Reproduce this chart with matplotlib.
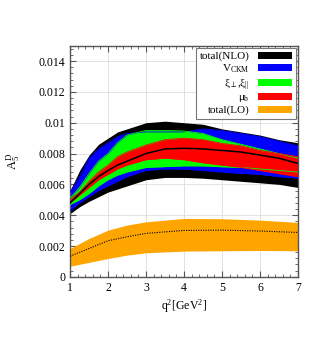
import numpy as np
import matplotlib
matplotlib.use("Agg")
import matplotlib.pyplot as plt
from matplotlib.ticker import AutoMinorLocator, FuncFormatter
from matplotlib.patches import Patch

plt.rcParams['font.family'] = ['Liberation Serif', 'DejaVu Serif']
plt.rcParams['mathtext.fontset'] = 'custom'
plt.rcParams['mathtext.rm'] = 'Liberation Serif'
plt.rcParams['mathtext.it'] = 'Liberation Serif'

q2 = [1.0, 1.25, 1.5, 1.75, 2.0, 2.25, 2.5, 3.0, 3.5, 4.0, 4.5, 5.0, 5.5, 6.0, 6.5, 7.0]

nlo_central = [0.0048, 0.0054, 0.0060, 0.0065, 0.0069, 0.00725, 0.0075, 0.0080, 0.0083, 0.00834, 0.0083, 0.0082, 0.0081, 0.0079, 0.0077, 0.00736]
nlo_upper = [0.0056, 0.0069, 0.0079, 0.0086, 0.0090, 0.0094, 0.0096, 0.0100, 0.0101, 0.0100, 0.0099, 0.0096, 0.0094, 0.0092, 0.0089, 0.0087]
nlo_lower = [0.0041, 0.00455, 0.0049, 0.0052, 0.0055, 0.0057, 0.0059, 0.0063, 0.00645, 0.00645, 0.0064, 0.0063, 0.0062, 0.0061, 0.0060, 0.0058]

ckm_upper = [0.0055, 0.0065, 0.0077, 0.0083, 0.0087, 0.0091, 0.0093, 0.0094, 0.0094, 0.0094, 0.0096, 0.0095, 0.0093, 0.0091, 0.0088, 0.0085]
ckm_lower = [0.0043, 0.0048, 0.0052, 0.0056, 0.0059, 0.0062, 0.0065, 0.0069, 0.0070, 0.0070, 0.0069, 0.0068, 0.00672, 0.00665, 0.0065, 0.0064]

xi_upper = [0.0051, 0.0058, 0.0067, 0.0075, 0.0080, 0.0087, 0.0092, 0.0095, 0.0095, 0.00946, 0.0093, 0.0089, 0.0086, 0.0083, 0.0080, 0.0077]
xi_lower = [0.0047, 0.0050, 0.0054, 0.0059, 0.0063, 0.0066, 0.0068, 0.0071, 0.00715, 0.0072, 0.0072, 0.00714, 0.0071, 0.0070, 0.0069, 0.0068]

mub_upper = [0.0050, 0.0055, 0.0062, 0.0068, 0.00725, 0.0078, 0.0081, 0.00855, 0.0089, 0.0090, 0.0089, 0.00866, 0.0085, 0.0082, 0.0080, 0.0078]
mub_lower = [0.0048, 0.0053, 0.0058, 0.0063, 0.00665, 0.0070, 0.00725, 0.0076, 0.0077, 0.0076, 0.0074, 0.00725, 0.0071, 0.0069, 0.0067, 0.0065]

lo_q2 = [1, 1.5, 2, 2.5, 3, 4, 5, 6, 7]
lo_central = [0.00134, 0.00184, 0.00234, 0.0026, 0.00282, 0.00301, 0.00303, 0.00297, 0.00288]
lo_upper = [0.00184, 0.00249, 0.00303, 0.00336, 0.00357, 0.00379, 0.00377, 0.00368, 0.00353]
lo_lower = [0.00069, 0.00094, 0.00119, 0.00141, 0.00156, 0.00167, 0.00169, 0.00171, 0.00169]

labels = ['total(NLO)', r'V$_{\rm CKM}$', r'$\xi_{\perp}$,$\xi_{||}$', r'$\mu_{\rm b}$', 'total(LO)']
colors = ['#000000', '#0000FF', '#00FF00', '#FF0000', '#FFA500']

yticks = [0, 0.002, 0.004, 0.006, 0.008, 0.01, 0.012, 0.014]
xticks = [1, 2, 3, 4, 5, 6, 7]

fig = plt.figure(figsize=(3.2, 3.54), dpi=100)
ax = fig.add_axes([0.219, 0.218, 0.712, 0.653])

bands = [(nlo_lower, nlo_upper), (ckm_lower, ckm_upper), (xi_lower, xi_upper), (mub_lower, mub_upper)]
for (lo, up), c in zip(bands, colors[:4]):
    ax.fill_between(q2, lo, up, color=c, lw=0, zorder=2)
for (lo, up), c in zip(bands[1:], colors[1:4]):
    ax.plot(q2, lo, color=c, lw=0.6, zorder=3)
    ax.plot(q2, up, color=c, lw=0.6, zorder=3)
ax.plot(q2, nlo_central, color='black', lw=1.1, zorder=4)

ax.fill_between(lo_q2, lo_lower, lo_upper, color=colors[4], lw=0, zorder=2)
ax.plot(lo_q2, lo_central, color='black', lw=0.8, ls=(0, (1, 1.2)), zorder=4)

ax.set_xlim(1, 7)
ax.set_ylim(0, 0.015)
ax.set_xticks(xticks)
ax.set_yticks(yticks)
ax.yaxis.set_major_formatter(FuncFormatter(lambda v, p: '%g' % round(v, 4)))
ax.xaxis.set_minor_locator(AutoMinorLocator(5))
ax.yaxis.set_minor_locator(AutoMinorLocator(5))
ax.tick_params(which='both', direction='in', top=True, right=True, colors='#555555',
               labelcolor='black', labelsize=8.5)
ax.tick_params(which='major', length=4, width=0.8)
ax.tick_params(which='minor', length=2, width=0.6)
ax.grid(True, which='major', color='#dddddd', lw=0.6, zorder=0)
ax.set_axisbelow(True)
for s in ax.spines.values():
    s.set_color('#555555')
    s.set_linewidth(1.0)

ax.set_xlabel(r'q$^2$[GeV$^2$]', fontsize=8.5, labelpad=3)
ax.set_ylabel(r'A$_5^{\rm D}$', fontsize=9)
ax.yaxis.set_label_coords(-0.21, 0.5)

handles = [Patch(facecolor=c, edgecolor='none') for c in colors]
leg = ax.legend(handles, labels, loc='upper right', markerfirst=False, fontsize=8,
                frameon=True, fancybox=False, edgecolor='#777777', framealpha=1,
                borderaxespad=0.2, handlelength=3.0, handleheight=0.6,
                labelspacing=0.12, handletextpad=0.8, borderpad=0.35)
leg.get_frame().set_linewidth(0.8)

fig.savefig('out.png', dpi=100)
